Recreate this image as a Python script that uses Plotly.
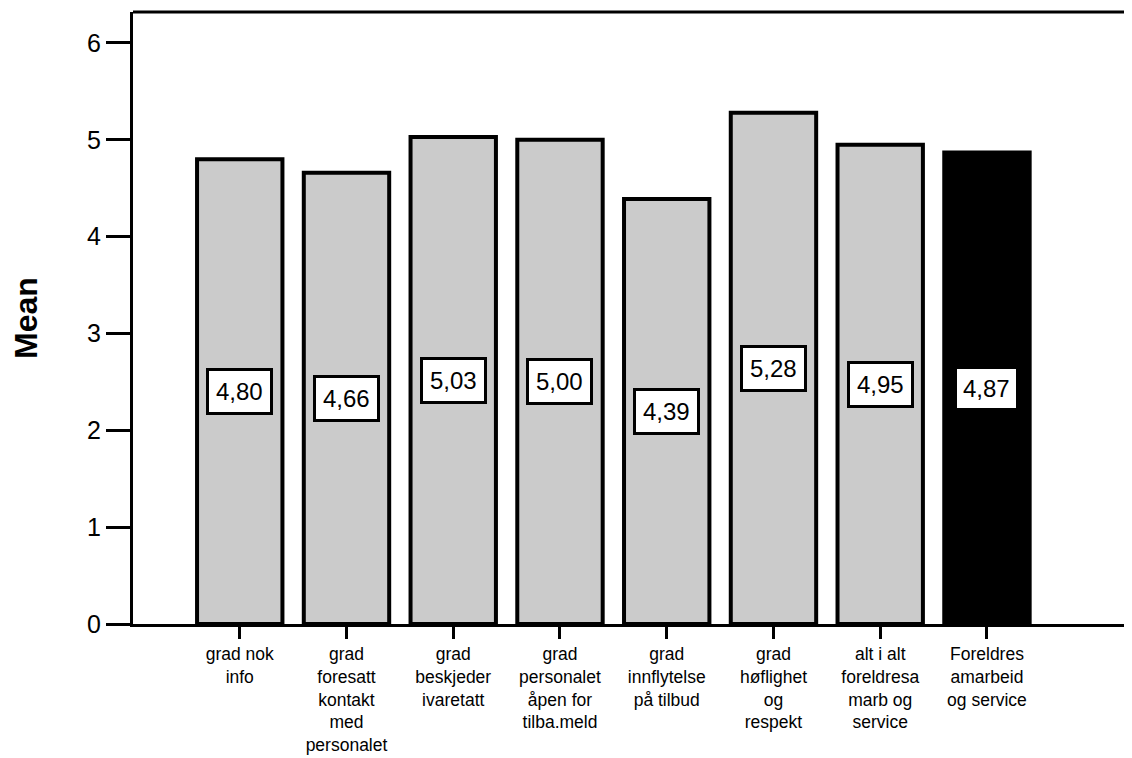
import plotly.graph_objects as go

categories = [
    "grad nok<br>info",
    "grad<br>foresatt<br>kontakt<br>med<br>personalet",
    "grad<br>beskjeder<br>ivaretatt",
    "grad<br>personalet<br>åpen for<br>tilba.meld",
    "grad<br>innflytelse<br>på tilbud",
    "grad<br>høflighet<br>og<br>respekt",
    "alt i alt<br>foreldresa<br>marb og<br>service",
    "Foreldres<br>amarbeid<br>og service",
]
means = [4.80, 4.66, 5.03, 5.00, 4.39, 5.28, 4.95, 4.87]
y_ticks = [0, 1, 2, 3, 4, 5, 6]

xpos = list(range(len(categories)))
n = len(categories)
fill = ["#cbcbcb"] * (n - 1) + ["#000000"]

FONT = "Liberation Sans, Arial, sans-serif"

fig = go.Figure()
fig.add_trace(go.Bar(
    x=xpos, y=means, width=0.8,
    marker=dict(color=fill, line=dict(color="#000000", width=4)),
    hoverinfo="skip",
))

for i, v in enumerate(means):
    last = (i == n - 1)
    fig.add_annotation(
        x=i, y=v / 2, xref="x", yref="y",
        text=f"{v:.2f}".replace(".", ","),
        showarrow=False,
        font=dict(family=FONT, size=24, color="#000000"),
        bgcolor="#ffffff",
        bordercolor="#ffffff" if last else "#000000",
        borderwidth=0 if last else 3,
        borderpad=6 if last else 7,
    )

# top frame line
fig.add_shape(type="line", xref="paper", yref="paper", x0=0, x1=1, y0=1, y1=1,
              line=dict(color="#000000", width=3))

fig.update_layout(
    width=1124, height=750,
    margin=dict(l=125, r=2, t=4, b=134),
    paper_bgcolor="#ffffff", plot_bgcolor="#ffffff",
    showlegend=False,
    font=dict(family=FONT, color="#000000"),
    xaxis=dict(
        range=[-1, 8.34],
        tickvals=xpos, ticktext=categories,
        showline=True, linecolor="#000000", linewidth=3,
        ticks="outside", ticklen=12, tickwidth=3, tickcolor="#000000",
        tickfont=dict(family=FONT, size=17.5, color="#000000"),
        showgrid=False, zeroline=False, automargin=False,
    ),
    yaxis=dict(
        range=[0, 6.32],
        tickvals=y_ticks,
        showline=True, linecolor="#000000", linewidth=3,
        ticks="outside", ticklen=24, tickwidth=3, tickcolor="#000000",
        tickfont=dict(family=FONT, size=25, color="#000000"),
        showgrid=False, zeroline=False, automargin=False,
        title=dict(text="<b>Mean</b>", font=dict(family=FONT, size=32, color="#000000"),
                   standoff=53),
    ),
)

fig.write_html("out.html")
